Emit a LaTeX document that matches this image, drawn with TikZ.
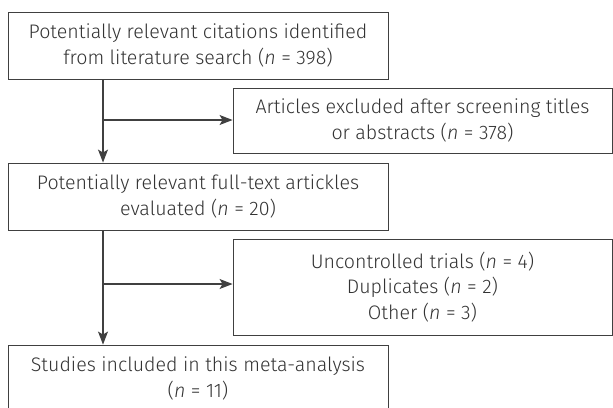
\documentclass[tikz,border=0pt]{standalone}
\usepackage{fontspec}
\setmainfont{Fira Sans Light}
\usepackage{tikz}
\usetikzlibrary{arrows.meta}

\begin{document}
\begin{tikzpicture}[x=1pt,y=-1pt,>={Stealth[length=13pt,width=10pt,inset=3pt]},font=\fontsize{19.6}{25.5}\selectfont]
  \tikzstyle{box}=[draw=black!75,line width=0.9pt,rectangle,align=center,text=black!80,inner sep=0pt]
  \tikzstyle{link}=[draw=black!75,line width=1.1pt]
  \useasboundingbox (0,0) rectangle (613,407);
  \node[box,minimum width=380,minimum height=67] (search) at (198,45.5)
    {Potentially relevant citations identified\\from literature search (\textit{n} = 398)};
  \node[box,minimum width=379,minimum height=65] (screen) at (422.5,120.5)
    {Articles excluded after screening titles\\or abstracts (\textit{n} = 378)};
  \node[box,minimum width=380,minimum height=67] (fulltext) at (198,196.5)
    {Potentially relevant full-text artickles\\evaluated (\textit{n} = 20)};
  \node[box,minimum width=379,minimum height=96] (excl) at (422.5,287)
    {Uncontrolled trials (\textit{n} = 4)\\Duplicates (\textit{n} = 2)\\Other (\textit{n} = 3)};
  \node[box,minimum width=380,minimum height=67] (incl) at (198,378.5)
    {Studies included in this meta-analysis\\(\textit{n} = 11)};
  \coordinate (split1) at (103,120);
  \coordinate (split2) at (103,284);
  \draw[link,->] (search.south -| split1) -- (fulltext.north -| split1);
  \draw[link,->] (split1) -- (split1 -| screen.west);
  \draw[link,->] (fulltext.south -| split2) -- (incl.north -| split2);
  \draw[link,->] (split2) -- (split2 -| excl.west);
\end{tikzpicture}
\end{document}
